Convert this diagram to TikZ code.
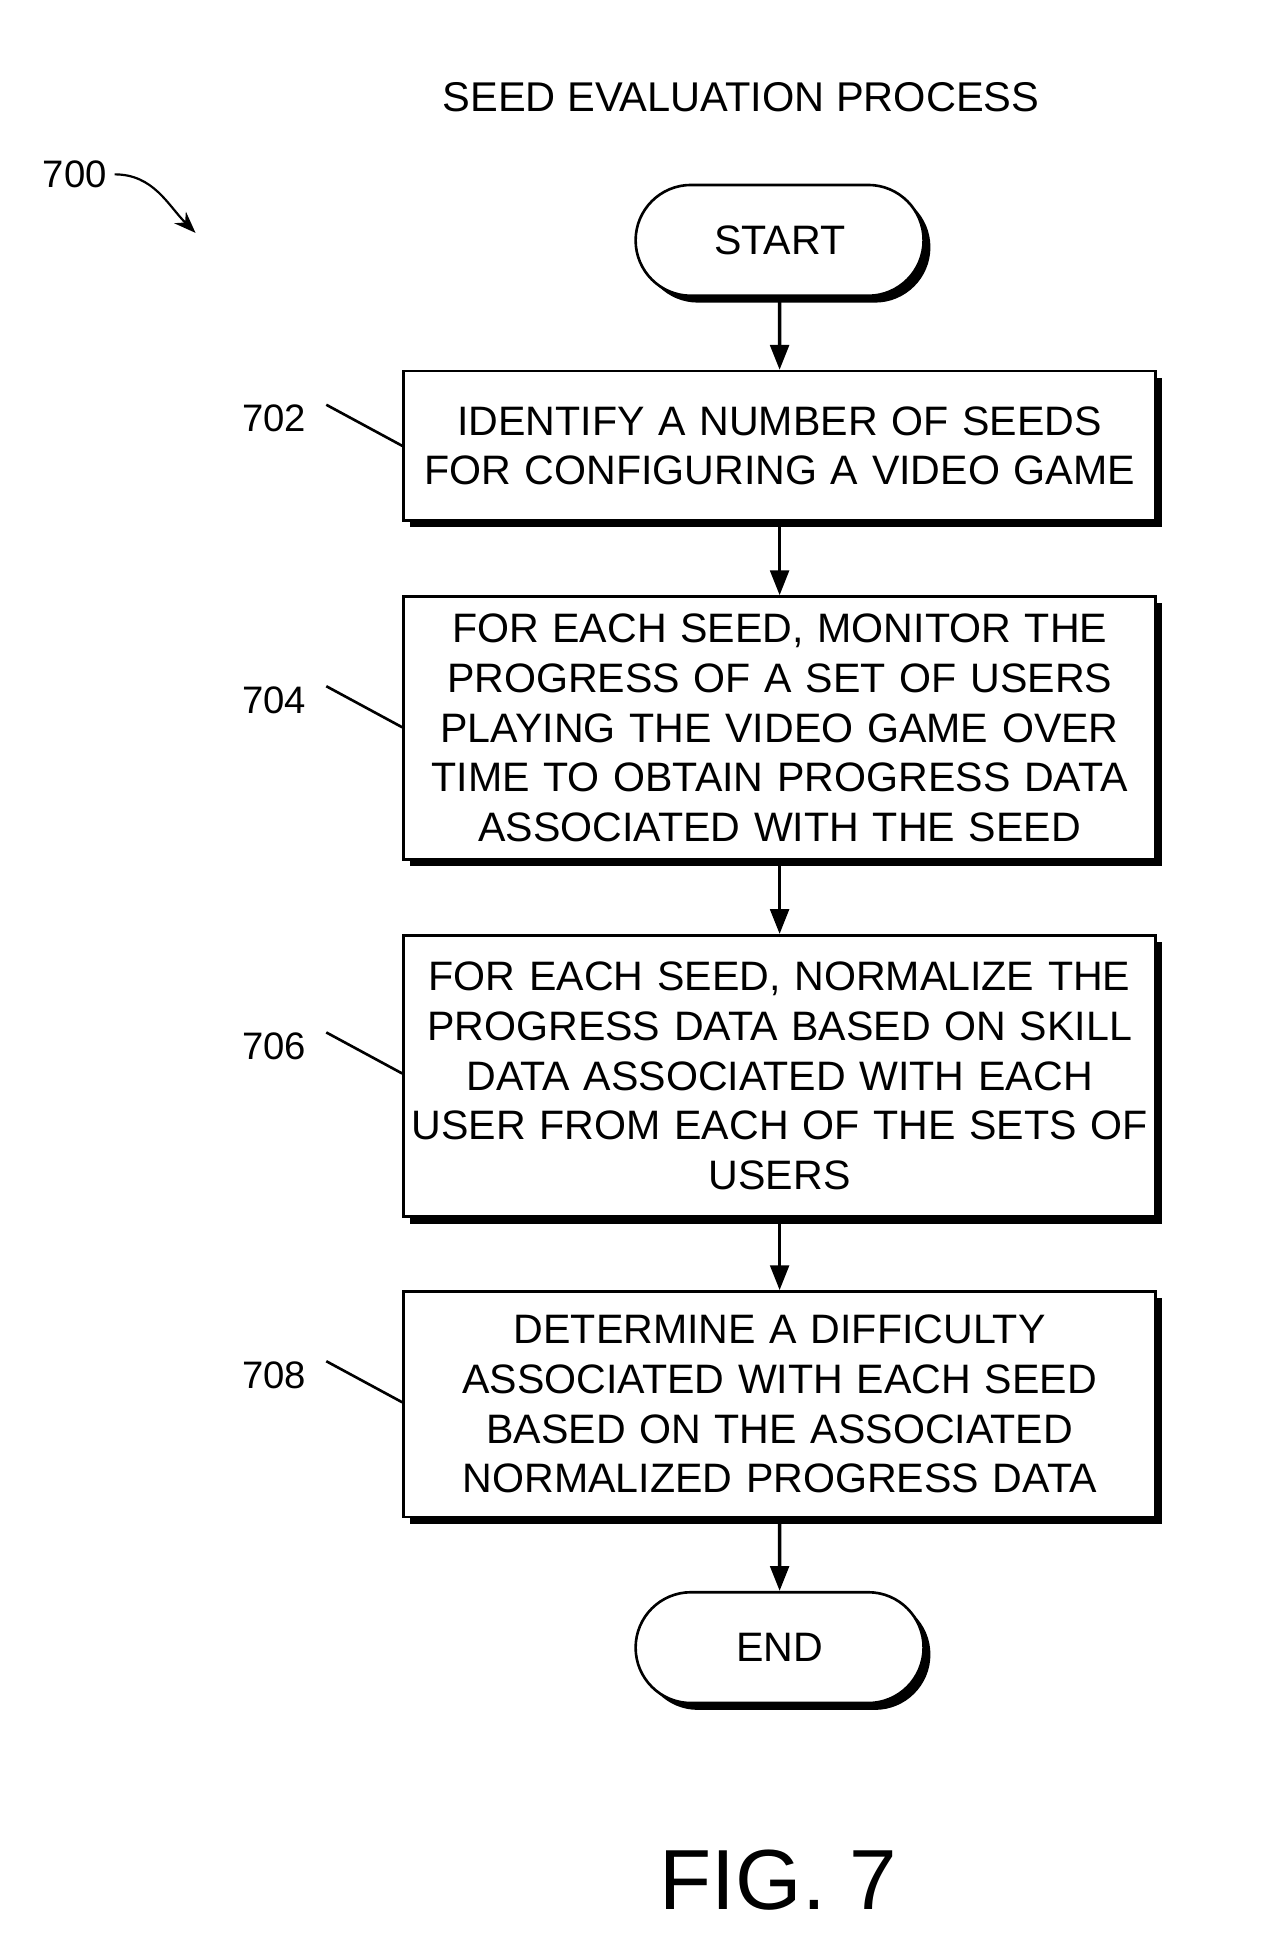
\documentclass[tikz,border=0pt]{standalone}
\usepackage{fontspec}
\setmainfont{Liberation Sans}
\usetikzlibrary{shapes.misc,shadows,arrows.meta}
\tikzset{
  shade box/.style={draw,fill=white,line width=1.2pt,
    drop shadow={shadow xshift=0.11cm,shadow yshift=-0.11cm,fill=black,opacity=1}},
  procbox/.style={shade box,minimum width=12.08cm,text width=11.9cm,align=center,
    inner sep=0pt,font=\fontsize{18.8}{22.7}\selectfont},
  term/.style={shade box,rounded rectangle,minimum width=4.86cm,minimum height=1.78cm,
    font=\fontsize{18.8}{20}\selectfont},
  flow/.style={-{Triangle[length=0.4cm,width=0.3cm]},line width=1.6pt},
  tag/.style={font=\fontsize{17.5}{20}\selectfont},
}
\begin{document}
\begin{tikzpicture}[x=0.02cm,y=-0.02cm]
\useasboundingbox (0,0) rectangle (1014,1565);
\node[tag,font=\fontsize{19}{20}\selectfont] (title) at (595,78) {SEED EVALUATION PROCESS};
\node[tag,anchor=east] (fignum) at (92,140) {700};
\draw[-{Stealth[length=0.35cm]},line width=1pt] (fignum.east) to[out=0,in=135] (157,187);
\node[term] (start) at (626,193) {START};
\node[procbox,minimum height=2.4cm] (s702) at (626,358) {IDENTIFY A NUMBER OF SEEDS\\FOR CONFIGURING A VIDEO GAME};
\node[procbox,minimum height=4.22cm] (s704) at (626,584.5) {FOR EACH SEED, MONITOR THE\\PROGRESS OF A SET OF USERS\\PLAYING THE VIDEO GAME OVER\\TIME TO OBTAIN PROGRESS DATA\\ASSOCIATED WITH THE SEED};
\node[procbox,minimum height=4.52cm] (s706) at (626,864) {FOR EACH SEED, NORMALIZE THE\\PROGRESS DATA BASED ON SKILL\\DATA ASSOCIATED WITH EACH\\USER FROM EACH OF THE SETS OF\\USERS};
\node[procbox,minimum height=3.62cm] (s708) at (626,1127.5) {DETERMINE A DIFFICULTY\\ASSOCIATED WITH EACH SEED\\BASED ON THE ASSOCIATED\\NORMALIZED PROGRESS DATA};
\node[term] (end) at (626,1323) {END};
\draw[flow] (start) -- (s702);
\draw[flow] (s702) -- (s704);
\draw[flow] (s704) -- (s706);
\draw[flow] (s706) -- (s708);
\draw[flow] (s708) -- (end);
\foreach \n/\y in {702/336,704/562,706/840,708/1104}
{
  \node[tag,anchor=east] (l\n) at (252,\y) {\n};
  \draw[line width=1.2pt] (262,\y-11) -- (s\n.west |- 0,\y+22);
}
\node[font=\fontsize{39}{44}\selectfont] (fig) at (625,1510) {FIG. 7};
\end{tikzpicture}
\end{document}
